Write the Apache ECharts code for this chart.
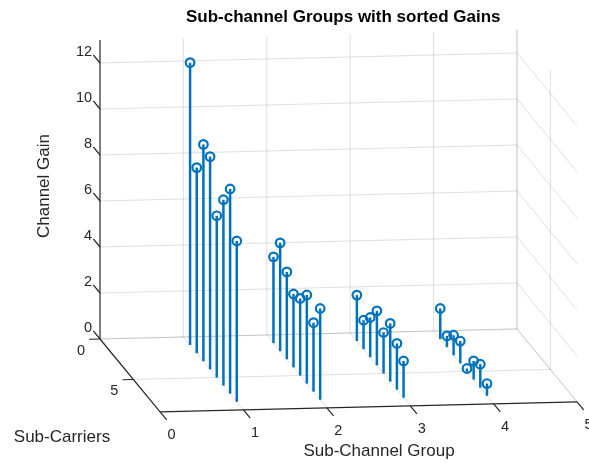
<!DOCTYPE html>
<html><head><meta charset="utf-8">
<script src="https://cdn.jsdelivr.net/npm/echarts@6/dist/echarts.min.js"></script>
<style>html,body{margin:0;padding:0;background:#fff}#c{width:589px;height:463px}</style>
</head><body><div id="c"></div>
<script>
// ---- data ----
const groups = [1, 2, 3, 4];
const subCarriers = [1, 2, 3, 4, 5, 6, 7, 8];
const gainsGroup1 = [12.28, 8.07, 9.43, 9.25, 7.03, 8.08, 8.90, 6.99];
const gainsGroup2 = [3.75, 4.71, 3.80, 3.19, 3.35, 3.85, 3.00, 3.97];
const gainsGroup3 = [2.00, 1.26, 1.73, 2.37, 1.78, 2.53, 2.01, 1.60];
const gainsGroup4 = [1.33, 0.49, 0.87, 0.97, 0.13, 0.81, 1.02, 0.53];
const groupTicks = [0, 1, 2, 3, 4, 5];
const subTicks = [0, 5];
const gainTicks = [0, 2, 4, 6, 8, 10, 12];
const groupLim = [0, 5];
const subLim = [0, 9];
const gainLim = [0, 13];

// ---- oblique view of the 3-D box (screen = group/gain plane) ----
const KX = 0.080;   // group units per sub-carrier (horizontal shift)
const KY = 0.352;   // gain units per sub-carrier (downward shift)
const KG = 0.087;   // gain units per group (upward tilt)
function proj(g, s, z) { return [g + KX * s, z + KG * g - KY * s]; }
function seg(a, b) { return proj(a[0], a[1], a[2]).concat(proj(b[0], b[1], b[2])); }

const allGains = [gainsGroup1, gainsGroup2, gainsGroup3, gainsGroup4];
const stemData = [];
groups.forEach((g, gi) => subCarriers.forEach((s, si) => {
  stemData.push([g, s, allGains[gi][si]]);
}));

// grid lines (back wall s=0, right wall g=max, floor z=0)
const gridSegs = [];
gainTicks.forEach(z => {
  gridSegs.push(seg([groupLim[0], subLim[0], z], [groupLim[1], subLim[0], z]));
  gridSegs.push(seg([groupLim[1], subLim[0], z], [groupLim[1], subLim[1], z]));
});
groupTicks.forEach(g => {
  if (g > groupLim[0]) gridSegs.push(seg([g, subLim[0], gainLim[0]], [g, subLim[0], gainLim[1]]));
  if (g > groupLim[0]) gridSegs.push(seg([g, subLim[0], gainLim[0]], [g, subLim[1], gainLim[0]]));
});
subTicks.forEach(s => {
  gridSegs.push(seg([groupLim[1], s, gainLim[0]], [groupLim[1], s, gainLim[1]]));
  gridSegs.push(seg([groupLim[0], s, gainLim[0]], [groupLim[1], s, gainLim[0]]));
});

// axis lines and ticks
const axisSegs = [
  seg([0, 0, gainLim[0]], [0, 0, gainLim[1]]),
  seg([0, subLim[0], 0], [0, subLim[1], 0]),
  seg([groupLim[0], subLim[1], 0], [groupLim[1], subLim[1], 0])
];
gainTicks.forEach(z => axisSegs.push(seg([0, 0, z], [0, -1, z])));
subTicks.forEach(s => axisSegs.push(seg([0, s, 0], [-0.13, s, 0])));
groupTicks.forEach(g => axisSegs.push(seg([g, subLim[1], 0], [g, subLim[1] + 1, 0])));

// tick labels: [px, py, text, dx, dy, align]
const tickLabels = [];
gainTicks.forEach(z => { const p = proj(0, -1, z); tickLabels.push([p[0], p[1], String(z), -1.3, -3, 'right']); });
subTicks.forEach(s => { const p = proj(0, s, 0); tickLabels.push([p[0], p[1], String(s), -19, 11.5, 'center']); });
groupTicks.forEach(g => { const p = proj(g, subLim[1], 0); tickLabels.push([p[0], p[1], String(g), 11.5, 23.5, 'center']); });

const FONT = "'Liberation Sans', Arial, Helvetica, sans-serif";
const TXT = '#262626';
const BLUE = '#0072BD';

function lineItem(color, width) {
  return function (params, api) {
    const a = api.coord([api.value(0), api.value(1)]);
    const b = api.coord([api.value(2), api.value(3)]);
    return { type: 'line', shape: { x1: a[0], y1: a[1], x2: b[0], y2: b[1] },
      style: { stroke: color, lineWidth: width } };
  };
}

const chart = echarts.init(document.getElementById('c'), null, { renderer: 'canvas' });
chart.setOption({
  animation: false,
  backgroundColor: '#fff',
  grid: { left: 100, top: 40, width: 417, height: 299 },
  xAxis: { type: 'value', min: groupLim[0], max: groupLim[1], show: false },
  yAxis: { type: 'value', min: gainLim[0], max: gainLim[1], show: false },
  graphic: [
    { type: 'text', x: 186, y: 17, z: 10,
      style: { text: 'Sub-channel Groups with sorted Gains', fill: '#000',
        font: 'bold 17px ' + FONT, textAlign: 'left', textVerticalAlign: 'middle' } },
    { type: 'text', x: 44, y: 186, rotation: Math.PI / 2, z: 10,
      style: { text: 'Channel Gain', fill: TXT, font: '17px ' + FONT, textAlign: 'center', textVerticalAlign: 'middle' } },
    { type: 'text', x: 62, y: 437, z: 10,
      style: { text: 'Sub-Carriers', fill: TXT, font: '17px ' + FONT, textAlign: 'center', textVerticalAlign: 'middle' } },
    { type: 'text', x: 379, y: 451, z: 10,
      style: { text: 'Sub-Channel Group', fill: TXT, font: '17px ' + FONT, textAlign: 'center', textVerticalAlign: 'middle' } }
  ],
  series: [
    { type: 'custom', name: 'grid', silent: true, z: 1, data: gridSegs,
      renderItem: lineItem('rgba(38,38,38,0.15)', 1) },
    { type: 'custom', name: 'axes', silent: true, z: 2, data: axisSegs,
      renderItem: lineItem(TXT, 1.2) },
    { type: 'custom', name: 'ticklabels', silent: true, z: 3, data: tickLabels,
      renderItem: function (params, api) {
        const d = tickLabels[params.dataIndex];
        const p = api.coord([d[0], d[1]]);
        return { type: 'text', x: p[0] + d[3], y: p[1] + d[4],
          style: { text: d[2], fill: TXT, font: '14.5px ' + FONT, textAlign: d[5], textVerticalAlign: 'middle' } };
      } },
    { type: 'custom', name: 'Channel Gain', z: 4, data: stemData,
      renderItem: function (params, api) {
        const g = api.value(0), s = api.value(1), z = api.value(2);
        const b = api.coord(proj(g, s, 0));
        const t = api.coord(proj(g, s, z));
        return { type: 'group', children: [
          { type: 'line', shape: { x1: b[0], y1: b[1], x2: t[0], y2: t[1] },
            style: { stroke: BLUE, lineWidth: 2.5 } },
          { type: 'circle', shape: { cx: t[0], cy: t[1], r: 4.3 },
            style: { fill: 'none', stroke: BLUE, lineWidth: 2.2 } }
        ] };
      } }
  ]
});
</script></body></html>
